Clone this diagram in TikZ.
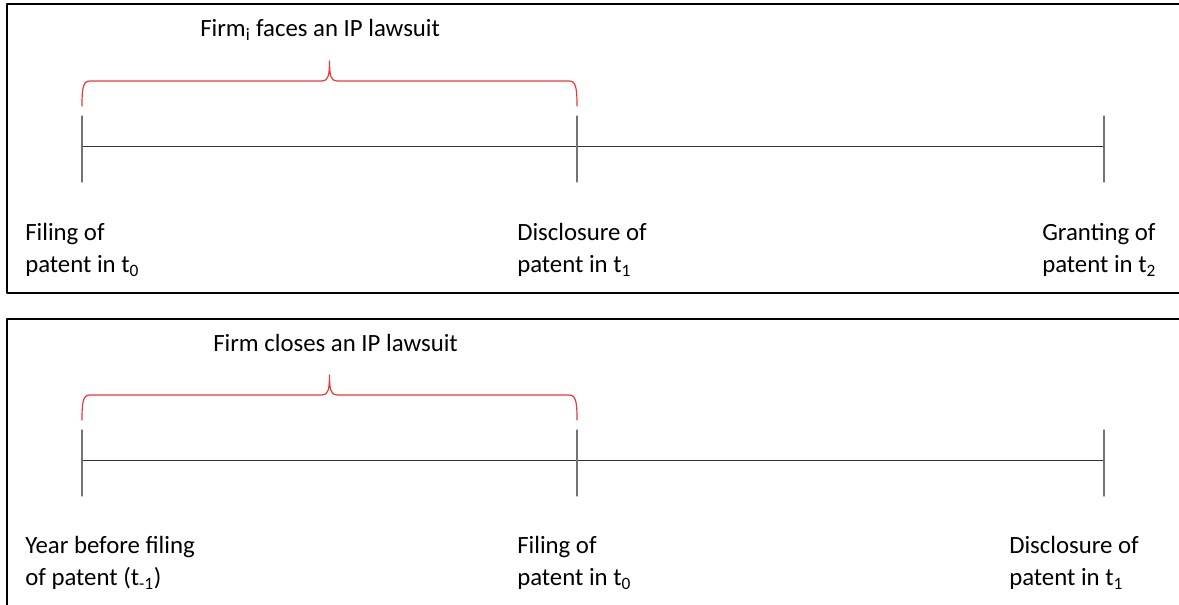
\documentclass[tikz,border=0pt]{standalone}
\usepackage{fontspec}
\setmainfont{Carlito}

\begin{document}
\begin{tikzpicture}[x=0.75pt,y=-0.75pt,line cap=round,line join=round,
	lbl/.style={anchor=west,align=left,inner sep=0pt,font=\fontsize{18.6}{24}\selectfont},
	axis/.style={draw=black!80,line width=0.6pt},
	tick/.style={draw=black!55,line width=0.8pt},
	brc/.style={draw={rgb,255:red,235;green,55;blue,55},line width=0.9pt},
	frame/.style={draw=black,line width=1.6pt}]
			\useasboundingbox (0,0) rectangle (1179,604);
			% frames
			\draw[frame] (1190,4)--(7,4)--(7,293)--(1190,293);
			\draw[frame] (1190,319)--(7,319)--(7,615);
			% upper timeline
			\coordinate (fil) at (82,146);
			\coordinate (dis) at (577,146);
			\coordinate (gra) at (1104,146);
			\draw[axis] (fil)--(gra);
			\draw[tick] ([yshift=22.5pt]fil)--([yshift=-27pt]fil);
			\draw[tick] ([yshift=22.5pt]dis)--([yshift=-27pt]dis);
			\draw[tick] ([yshift=22.5pt]gra)--([yshift=-27pt]gra);
			\draw[brc] (82,106) .. controls (82,88) and (83,81) .. (90,81) -- (322,81)
				.. controls (328,81) and (329.5,76) .. (329.5,61)
				.. controls (329.5,76) and (331,81) .. (337,81) -- (569,81)
				.. controls (576,81) and (577,88) .. (577,106);
			\node[lbl] (face) at (200,30) {Firm\textsubscript{i} faces an IP lawsuit};
			\node[lbl] (lfil) at (25,250) {Filing of\\patent in t\textsubscript{0}};
			\node[lbl] (ldis) at (517,250) {Disclosure of\\patent in t\textsubscript{1}};
			\node[lbl] (lgra) at (1042,250) {Granting of\\patent in t\textsubscript{2}};
			% lower timeline
			\coordinate (pre) at (82,460);
			\coordinate (fil2) at (577,460);
			\coordinate (dis2) at (1104,460);
			\draw[axis] (pre)--(dis2);
			\draw[tick] ([yshift=22.5pt]pre)--([yshift=-27pt]pre);
			\draw[tick] ([yshift=22.5pt]fil2)--([yshift=-27pt]fil2);
			\draw[tick] ([yshift=22.5pt]dis2)--([yshift=-27pt]dis2);
			\draw[brc] (82,420) .. controls (82,402) and (83,395) .. (90,395) -- (322,395)
				.. controls (328,395) and (329.5,390) .. (329.5,375)
				.. controls (329.5,390) and (331,395) .. (337,395) -- (569,395)
				.. controls (576,395) and (577,402) .. (577,420);
			\node[lbl] (clo) at (213,343) {Firm closes an IP lawsuit};
			\node[lbl] (lpre) at (25,563) {Year before filing\\of patent (t\textsubscript{-1})};
			\node[lbl] (lfil2) at (517,563) {Filing of\\patent in t\textsubscript{0}};
			\node[lbl] (ldis2) at (1009,563) {Disclosure of\\patent in t\textsubscript{1}};
\end{tikzpicture}
\end{document}
